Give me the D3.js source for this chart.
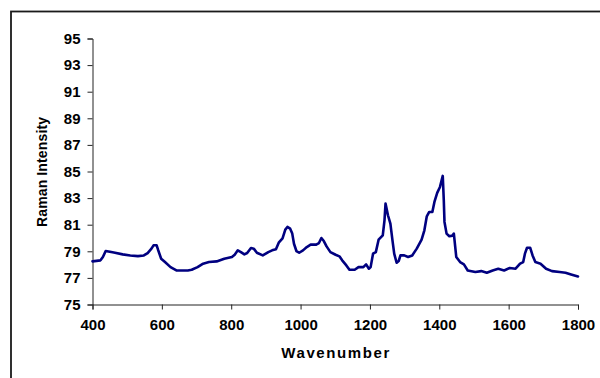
<!DOCTYPE html>
<html>
<head>
<meta charset="utf-8">
<script src="https://cdn.jsdelivr.net/npm/d3@7"></script>
<style>
  body { margin: 0; background: #fff; }
  svg { display: block; }
</style>
</head>
<body>
<div id="chart"></div>
<script>
// spectrum
const wavenumber = [400, 423, 430, 438, 454, 465, 487, 509, 531, 548, 559, 570, 576, 585, 589, 598, 609, 625, 642, 659,
    675, 686, 703, 719, 736, 758, 780, 802, 810, 819, 828, 838, 846, 857, 865, 874, 891, 907, 918, 929,
    937, 948, 956, 962, 970, 976, 981, 988, 996, 1007, 1018, 1029, 1045, 1053, 1060, 1067, 1075, 1086, 1101, 1112,
    1120, 1132, 1141, 1156, 1167, 1181, 1189, 1197, 1202, 1209, 1217, 1225, 1237, 1242, 1245, 1252, 1259, 1265, 1270, 1277,
    1283, 1288, 1299, 1310, 1322, 1335, 1349, 1357, 1364, 1371, 1380, 1386, 1394, 1402, 1410, 1413, 1415, 1421, 1429, 1438,
    1442, 1449, 1460, 1471, 1482, 1504, 1521, 1537, 1554, 1570, 1587, 1603, 1620, 1633, 1642, 1647, 1653, 1662, 1669, 1677,
    1692, 1708, 1725, 1747, 1764, 1780, 1800];
const intensity = [78.24, 78.32, 78.57, 79.02, 78.94, 78.89, 78.77, 78.69, 78.64, 78.69, 78.87, 79.2, 79.45, 79.45, 79.12, 78.44, 78.19, 77.81, 77.56, 77.56,
    77.56, 77.61, 77.81, 78.07, 78.19, 78.24, 78.44, 78.57, 78.74, 79.07, 78.94, 78.77, 78.87, 79.25, 79.2, 78.89, 78.69, 78.94, 79.07, 79.15,
    79.65, 79.97, 80.63, 80.83, 80.7, 80.33, 79.57, 79.02, 78.89, 79.07, 79.32, 79.5, 79.5, 79.62, 80.0, 79.77, 79.37, 78.94, 78.74, 78.62,
    78.32, 77.94, 77.61, 77.61, 77.81, 77.81, 78.02, 77.69, 77.81, 78.82, 78.94, 79.87, 80.2, 81.33, 82.59, 81.71, 81.08, 79.82, 78.82, 78.14,
    78.27, 78.69, 78.69, 78.57, 78.69, 79.2, 79.87, 80.58, 81.63, 81.96, 81.96, 82.71, 83.39, 83.84, 84.67, 82.84, 81.21, 80.33, 80.13, 80.18,
    80.33, 78.57, 78.19, 78.02, 77.56, 77.44, 77.51, 77.39, 77.56, 77.69, 77.56, 77.74, 77.69, 78.07, 78.19, 78.82, 79.27, 79.27, 78.69, 78.19,
    78.07, 77.69, 77.51, 77.44, 77.39, 77.26, 77.11];

const xTicks = [400, 600, 800, 1000, 1200, 1400, 1600, 1800];
const yTicks = [75, 77, 79, 81, 83, 85, 87, 89, 91, 93, 95];

const width = 600, height = 378;

const svg = d3.select("#chart")
    .append("svg")
    .attr("width", width)
    .attr("height", height);

// outer frame (right and bottom edges are off-canvas)
svg.append("rect")
    .attr("x", 11)
    .attr("y", 11.5)
    .attr("width", 700)
    .attr("height", 500)
    .attr("fill", "none")
    .attr("stroke", "#1a1a1a")
    .attr("stroke-width", 1.8);

const x = d3.scaleLinear().domain([400, 1800]).range([92.5, 578]);
const y = d3.scaleLinear().domain([75, 95]).range([304.5, 38.5]);

const font = "Liberation Sans, Arial, sans-serif";

// y axis
const yAxis = svg.append("g")
    .attr("transform", `translate(${x(400)},0)`)
    .call(d3.axisLeft(y).tickValues(yTicks).tickSize(5).tickPadding(7).tickFormat(d3.format("d")));

// x axis
const xAxis = svg.append("g")
    .attr("transform", `translate(0,${y(75)})`)
    .call(d3.axisBottom(x).tickValues(xTicks).tickSize(5).tickPadding(10).tickFormat(d3.format("d")));

[yAxis, xAxis].forEach(g => {
    g.select(".domain").attr("stroke", "#222").attr("stroke-width", 1);
    g.selectAll(".tick line").attr("stroke", "#222").attr("stroke-width", 1);
    g.selectAll(".tick text")
        .attr("fill", "#000")
        .style("font-family", font)
        .style("font-size", "15px")
        .style("font-weight", "bold");
});

// axis titles
svg.append("text")
    .attr("x", (x(400) + x(1800)) / 2)
    .attr("y", 358)
    .attr("text-anchor", "middle")
    .attr("textLength", 108)
    .attr("lengthAdjust", "spacing")
    .style("font-family", font)
    .style("font-size", "15px")
    .style("font-weight", "bold")
    .text("Wavenumber");

svg.append("text")
    .attr("transform", "translate(47,172) rotate(-90)")
    .attr("text-anchor", "middle")
    .attr("textLength", 110)
    .attr("lengthAdjust", "spacing")
    .style("font-family", font)
    .style("font-size", "14px")
    .style("font-weight", "bold")
    .text("Raman Intensity");

// spectrum line
const points = wavenumber.map((w, i) => [w, intensity[i]]);

const line = d3.line()
    .x(d => x(d[0]))
    .y(d => y(d[1]));

svg.append("path")
    .datum(points)
    .attr("d", line)
    .attr("fill", "none")
    .attr("stroke", "#000080")
    .attr("stroke-width", 2.6)
    .attr("stroke-linejoin", "round")
    .attr("stroke-linecap", "round");
</script>
</body>
</html>
